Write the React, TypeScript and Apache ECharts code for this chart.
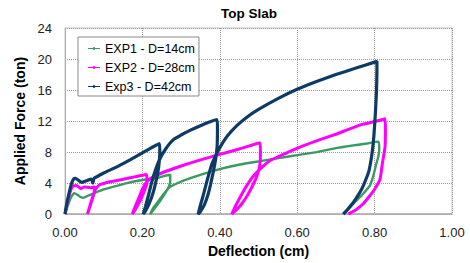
import React, { useEffect, useRef } from "react";
import * as echarts from "echarts";

const title = "Top Slab";
const xName = "Deflection (cm)";
const yName = "Applied Force (ton)";
const seriesNames = ["EXP1 - D=14cm", "EXP2 - D=28cm", "Exp3 - D=42cm"];
const seriesColors = ["#3a9a62", "#ff00ff", "#0d3b66"];

// [deflection (cm), force (ton)]
const exp1: number[][] = [
  [0, 0], [0.008, 1.2], [0.016, 2.2], [0.024, 2.7], [0.032, 2.5], [0.04, 2.2], [0.048, 2.1],
  [0.06, 2.4], [0.08, 2.8], [0.1, 3.2], [0.13, 3.6], [0.16, 4.0], [0.2, 4.4], [0.233, 4.6],
  [0.255, 4.9], [0.272, 5.1],
  [0.272, 4.3], [0.268, 3.5], [0.255, 2.4], [0.24, 1.3], [0.228, 0.5], [0.22, 0.0],
  [0.228, 0.8], [0.24, 1.6], [0.255, 2.6], [0.271, 3.5], [0.3, 4.2], [0.34, 4.9], [0.4, 5.8],
  [0.452, 6.4], [0.5, 6.8], [0.556, 7.25], [0.6, 7.6], [0.65, 8.0], [0.7, 8.5], [0.736, 8.8],
  [0.78, 9.1], [0.81, 9.35],
  [0.812, 8.5], [0.81, 7.5], [0.805, 6.6], [0.797, 5.0], [0.788, 3.7], [0.77, 2.6], [0.75, 1.6],
  [0.735, 0.8], [0.722, 0.0],
];

const exp2: number[][] = [
  [0, 0], [0.006, 1.4], [0.013, 2.8], [0.02, 3.6], [0.03, 3.7], [0.04, 3.3], [0.05, 3.5],
  [0.065, 3.4], [0.078, 3.5],
  [0.074, 2.5], [0.066, 1.2], [0.058, 0.0],
  [0.064, 1.0], [0.072, 2.3], [0.08, 3.3], [0.09, 3.8], [0.12, 4.2], [0.15, 4.5], [0.18, 4.8],
  [0.211, 5.1],
  [0.212, 4.0], [0.205, 3.0], [0.195, 1.8], [0.183, 0.7], [0.174, 0.0],
  [0.18, 0.8], [0.19, 2.0], [0.2, 3.2], [0.212, 4.2], [0.225, 4.7], [0.25, 5.3], [0.3, 6.2],
  [0.35, 7.0], [0.4, 7.7], [0.45, 8.4], [0.504, 9.2],
  [0.505, 8.0], [0.503, 6.2], [0.495, 4.8], [0.483, 3.5], [0.47, 2.3], [0.455, 1.2], [0.44, 0.4],
  [0.431, 0.0],
  [0.44, 1.0], [0.455, 2.4], [0.47, 3.7], [0.485, 4.8], [0.504, 5.8], [0.53, 6.9], [0.556, 7.5],
  [0.573, 7.9], [0.61, 8.7], [0.659, 9.6], [0.7, 10.3], [0.736, 11.0], [0.77, 11.6], [0.814, 12.1],
  [0.827, 12.3],
  [0.828, 11.0], [0.827, 8.7], [0.82, 6.5], [0.814, 4.5], [0.8, 3.2], [0.788, 2.4], [0.77, 1.3],
  [0.75, 0.5], [0.732, 0.0],
];

const exp3: number[][] = [
  [0, 0], [0.004, 1.2], [0.01, 2.6], [0.016, 3.8], [0.022, 4.5], [0.027, 4.6], [0.034, 4.4],
  [0.043, 4.1], [0.055, 4.3], [0.068, 4.5], [0.072, 4.0], [0.075, 4.6], [0.1, 5.3], [0.13, 6.0],
  [0.168, 7.0], [0.2, 7.9], [0.225, 8.6], [0.244, 9.1],
  [0.245, 8.0], [0.243, 6.5], [0.24, 5.4], [0.234, 4.0], [0.228, 2.8], [0.218, 1.4], [0.208, 0.4],
  [0.202, 0.0],
  [0.208, 1.0], [0.216, 2.5], [0.224, 4.1], [0.234, 5.7], [0.245, 7.1], [0.26, 8.4], [0.28, 9.6],
  [0.3, 10.2], [0.323, 10.8], [0.35, 11.4], [0.375, 11.9], [0.393, 12.2],
  [0.394, 11.0], [0.393, 8.7], [0.389, 7.0], [0.383, 5.4], [0.376, 3.8], [0.37, 2.6], [0.36, 1.2],
  [0.348, 0.2], [0.344, 0.0],
  [0.349, 1.0], [0.356, 2.2], [0.366, 4.1], [0.379, 6.4], [0.393, 7.9], [0.405, 9.0], [0.42, 10.1],
  [0.444, 11.4], [0.47, 12.5], [0.5, 13.5], [0.55, 14.9], [0.6, 16.1], [0.65, 17.1], [0.7, 18.0],
  [0.75, 18.8], [0.8, 19.6], [0.806, 19.7],
  [0.806, 18.5], [0.805, 16], [0.802, 13], [0.798, 10], [0.793, 7.7], [0.785, 5.5], [0.772, 3.8],
  [0.762, 2.8], [0.745, 1.5], [0.73, 0.6], [0.719, 0.0],
];

const seriesData = [exp1, exp2, exp3];
const lineWidths = [2.4, 3, 3.2];

const FONT = "'Liberation Sans', Arial, sans-serif";
const LEGEND_ICON = "path://M0,2.6H4.6L6,1.2L7.4,2.6H12V3.4H7.4L6,4.8L4.6,3.4H0Z";

export default function App() {
  const ref = useRef<HTMLDivElement>(null);
  useEffect(() => {
    document.body.style.margin = "0";
    if (!ref.current) return;
    const chart = echarts.init(ref.current, undefined, { renderer: "svg" });
    chart.setOption({
      animation: false,
      backgroundColor: "#ffffff",
      title: {
        text: title,
        left: 221,
        top: 6,
        padding: 0,
        textStyle: { fontFamily: FONT, fontSize: 13.5, fontWeight: "bold", color: "#000" },
      },
      legend: {
        orient: "vertical",
        left: 78,
        top: 37,
        padding: [5, 4, 3, 10],
        itemWidth: 12,
        itemHeight: 4,
        itemGap: 6,
        icon: LEGEND_ICON,
        backgroundColor: "#ffffff",
        borderColor: "#888888",
        borderWidth: 1,
        borderRadius: 0,
        textStyle: { fontFamily: FONT, fontSize: 12.5, color: "#000" },
        data: seriesNames,
      },
      grid: {
        left: 65,
        right: 18,
        top: 28,
        bottom: 44,
        show: true,
        borderColor: "#c8c8c8",
        borderWidth: 1,
      },
      xAxis: {
        type: "value",
        min: 0,
        max: 1,
        interval: 0.2,
        name: xName,
        nameLocation: "middle",
        nameGap: 28,
        nameTextStyle: { fontFamily: FONT, fontSize: 14, fontWeight: "bold", color: "#000" },
        axisLine: { show: true, lineStyle: { color: "#aaaaaa", width: 1.5 } },
        axisTick: { show: false },
        axisLabel: {
          fontFamily: FONT,
          fontSize: 13,
          color: "#222",
          margin: 12,
          formatter: (v: number) => v.toFixed(2),
        },
        splitLine: { show: true, lineStyle: { color: "#999", type: "dotted", width: 1 } },
      },
      yAxis: {
        type: "value",
        min: 0,
        max: 24,
        interval: 4,
        name: yName,
        nameLocation: "middle",
        nameGap: 36,
        nameTextStyle: { fontFamily: FONT, fontSize: 14, fontWeight: "bold", color: "#000" },
        axisLine: { show: true, lineStyle: { color: "#aaaaaa", width: 1 } },
        axisTick: { show: false },
        axisLabel: { fontFamily: FONT, fontSize: 13, color: "#222", margin: 13 },
        splitLine: { show: true, lineStyle: { color: "#999", type: "dotted", width: 1 } },
      },
      series: seriesNames.map((name, i) => ({
        name,
        type: "line",
        data: seriesData[i],
        symbol: "none",
        showSymbol: false,
        smooth: 0.15,
        color: seriesColors[i],
        lineStyle: { color: seriesColors[i], width: lineWidths[i] },
        z: 2 + i,
      })),
    });
    return () => chart.dispose();
  }, []);
  return <div ref={ref} style={{ width: 470, height: 263 }} />;
}
